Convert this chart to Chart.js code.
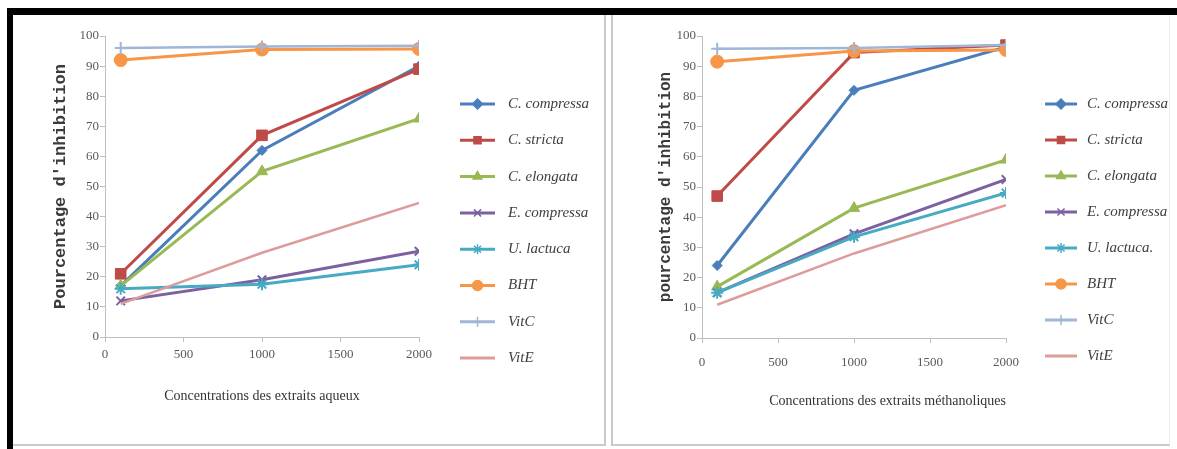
<!DOCTYPE html>
<html>
<head>
<meta charset="utf-8">
<script src="https://cdn.jsdelivr.net/npm/chart.js@4.4.1/dist/chart.umd.min.js"></script>
<style>
  body {
    margin: 0;
    width: 1177px;
    height: 449px;
    background: #fff;
    overflow: hidden;
    position: relative;
  }
  .bar-top { position: absolute; left: 7px; top: 8px; width: 1170px; height: 7px; background: #000; }
  .bar-left { position: absolute; left: 7px; top: 8px; width: 6px; height: 441px; background: #000; }
  .panel-left {
    position: absolute; left: 13px; top: 15px; width: 591px; height: 429px;
    border-right: 2px solid #c9c9c9; border-bottom: 2px solid #c9c9c9;
  }
  .panel-right {
    position: absolute; left: 611px; top: 15px; width: 556px; height: 429px;
    border-left: 2px solid #c9c9c9; border-bottom: 2px solid #c9c9c9; border-right: 1px solid #ececec;
  }
  canvas { position: absolute; }
  #chartAqueux { left: 14px; top: 16px; }
  #chartMeth { left: 614px; top: 16px; }
</style>
</head>
<body>
<div class="panel-left"></div>
<div class="panel-right"></div>
<div class="bar-top"></div>
<div class="bar-left"></div>
<canvas id="chartAqueux" width="590" height="428"></canvas>
<canvas id="chartMeth" width="554" height="428"></canvas>

<script>
// data

const concentrations = [100, 1000, 2000];
const xTicks = [0, 500, 1000, 1500, 2000];
const yTicks = [0, 10, 20, 30, 40, 50, 60, 70, 80, 90, 100];

const namesAqueux = ["C. compressa", "C. stricta", "C. elongata", "E. compressa", "U. lactuca", "BHT", "VitC", "VitE"];
const namesMeth = ["C. compressa", "C. stricta", "C. elongata", "E. compressa", "U. lactuca.", "BHT", "VitC", "VitE"];

// extraits aqueux
const aqCompressa = [17, 62, 90];
const aqStricta = [21, 67, 89];
const aqElongata = [17, 55, 72.5];
const aqECompressa = [12, 19, 28.5];
const aqLactuca = [16, 17.5, 24];
const aqBHT = [92, 95.5, 95.7];
const aqVitC = [96, 96.5, 96.8];
const aqVitE = [11, 28, 44.5];

// extraits methanoliques
const meCompressa = [24, 82, 96.4];
const meStricta = [47, 94.5, 97];
const meElongata = [17, 43, 59];
const meECompressa = [15, 34.5, 52.5];
const meLactuca = [15, 33.5, 48];
const meBHT = [91.5, 95, 95.4];
const meVitC = [95.8, 96, 97];
const meVitE = [11, 28, 44];

// styles
const colors = ["#4a7ebb", "#be4b48", "#98b954", "#7d60a0", "#46aac5", "#f79646", "#9fb6d6", "#dd9c9a"];
const markers = ["rectRot", "rect", "triangle", "crossRot", "star", "circle", "cross", false];
const markerSize = [5, 7.5, 6.5, 6, 6, 6.5, 6, 0];

function makeDatasets(names, series) {
  return series.map((values, i) => ({
    label: names[i],
    data: values.map((v, k) => ({ x: concentrations[k], y: v })),
    borderColor: colors[i],
    backgroundColor: colors[i],
    borderWidth: i >= 6 ? 2.5 : 3,
    pointStyle: markers[i],
    pointRadius: markerSize[i],
    pointBorderWidth: i === 3 || i === 4 || i === 6 ? 2 : 1,
    tension: 0,
    order: -i,
  }));
}

// legend drawn at the right like the original spreadsheet
const sideLegend = {
  id: "sideLegend",
  afterDraw(chart, args, opts) {
    const ctx = chart.ctx;
    ctx.save();
    chart.data.datasets.forEach((ds, i) => {
      const y = opts.y + i * opts.gap;
      ctx.strokeStyle = ds.borderColor;
      ctx.fillStyle = ds.borderColor;
      ctx.lineWidth = 3;
      ctx.beginPath();
      ctx.moveTo(opts.x, y);
      ctx.lineTo(opts.x + opts.len, y);
      ctx.stroke();
      if (ds.pointStyle) {
        ctx.lineWidth = 1.5;
        Chart.helpers.drawPoint(ctx, {
          pointStyle: ds.pointStyle,
          rotation: 0,
          radius: Math.min(ds.pointRadius, 5),
          borderWidth: 1.5,
        }, opts.x + opts.len / 2, y);
      }
      ctx.fillStyle = "#404040";
      ctx.font = "italic 15px 'Liberation Serif'";
      ctx.textBaseline = "middle";
      ctx.fillText(ds.label, opts.textX, y);
    });
    ctx.restore();
  },
};

function makeChart(id, names, series, cfg) {
  const ctx = document.getElementById(id).getContext("2d");
  return new Chart(ctx, {
    type: "line",
    data: { datasets: makeDatasets(names, series) },
    options: {
      responsive: false,
      animation: false,
      devicePixelRatio: 1,
      layout: { padding: cfg.padding },
      plugins: {
        legend: { display: false },
        tooltip: { enabled: false },
        sideLegend: cfg.legend,
      },
      scales: {
        x: {
          type: "linear",
          min: 0,
          max: 2000,
          afterBuildTicks: (s) => { s.ticks = xTicks.map((v) => ({ value: v })); },
          afterFit: (s) => { s.height = cfg.xHeight; },
          grid: { drawOnChartArea: false, tickLength: 5, color: "#bfbfbf" },
          border: { color: "#bfbfbf" },
          ticks: {
            padding: cfg.xTickPad,
            color: "#595959",
            maxRotation: 0,
            callback: (v) => String(v),
            font: { family: "'Liberation Serif'", size: 13 },
          },
          title: {
            display: true,
            text: cfg.xTitle,
            align: cfg.xTitleAlign,
            color: "#333",
            padding: 0,
            font: { family: "'Liberation Serif'", size: 14 },
          },
        },
        y: {
          min: 0,
          max: 100,
          afterBuildTicks: (s) => { s.ticks = yTicks.map((v) => ({ value: v })); },
          afterFit: (s) => { s.width = cfg.yWidth; },
          grid: { drawOnChartArea: false, tickLength: 5, color: "#bfbfbf" },
          border: { color: "#bfbfbf" },
          ticks: {
            padding: 1,
            color: "#595959",
            callback: (v) => String(v),
            font: { family: "'Liberation Serif'", size: 13 },
          },
          title: {
            display: true,
            text: cfg.yTitle,
            color: "#3a3a3a",
            padding: 0,
            font: { family: "'Liberation Mono'", size: cfg.yTitleSize, weight: "bold" },
          },
        },
      },
    },
    plugins: [sideLegend],
  });
}

makeChart("chartAqueux", namesAqueux,
  [aqCompressa, aqStricta, aqElongata, aqECompressa, aqLactuca, aqBHT, aqVitC, aqVitE], {
    padding: { left: 37, top: 20, right: 185, bottom: 39 },
    xHeight: 68,
    yWidth: 54,
    xTickPad: 5,
    xTitle: "Concentrations des extraits aqueux",
    xTitleAlign: "center",
    yTitle: "Pourcentage d'inhibition",
    yTitleSize: 17,
    legend: { x: 446, len: 35, textX: 494, y: 88, gap: 36.3 },
  });

makeChart("chartMeth", namesMeth,
  [meCompressa, meStricta, meElongata, meECompressa, meLactuca, meBHT, meVitC, meVitE], {
    padding: { left: 42, top: 20, right: 162, bottom: 34 },
    xHeight: 72,
    yWidth: 46,
    xTickPad: 12,
    xTitle: "Concentrations des extraits méthanoliques",
    xTitleAlign: "end",
    yTitle: "pourcentage d'inhibition",
    yTitleSize: 16,
    legend: { x: 431, len: 32, textX: 473, y: 88, gap: 36 },
  });
</script>
</body>
</html>
